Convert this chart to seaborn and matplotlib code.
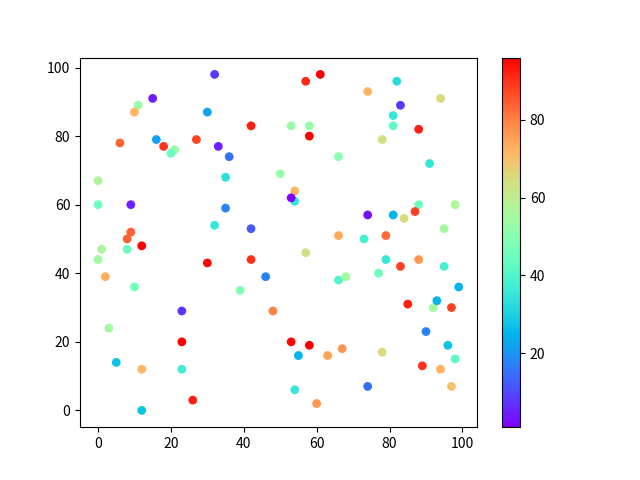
import numpy as np
import pandas as pd
import matplotlib
matplotlib.use("Agg")
import matplotlib.pyplot as plt
import seaborn as sns

# point positions and colour values
x = [32, 15, 11, 10, 30, 42, 6, 16, 18, 21, 20, 27, 33, 36, 50, 0, 35, 0, 9, 35,
     32, 42, 9, 8, 12, 1,
     61, 57, 82, 74, 94, 83, 81, 81, 53, 58, 58, 88, 78, 66, 91, 54, 54, 53, 88,
     98, 87, 74, 81, 84, 95, 66, 73, 79,
     8, 0, 30, 42, 2, 46, 10, 39, 23, 48, 3, 23, 5, 12, 23, 26, 12,
     57, 79, 88, 83, 95, 66, 68, 77, 99, 85, 92, 93, 97, 90, 53, 58, 55, 63, 67,
     78, 96, 98, 89, 94, 74, 97, 54, 60]
y = [98, 91, 89, 87, 87, 83, 78, 79, 77, 76, 75, 79, 77, 74, 69, 67, 68, 60, 60, 59,
     54, 53, 52, 50, 48, 47,
     98, 96, 96, 93, 91, 89, 86, 83, 83, 83, 80, 82, 79, 74, 72, 64, 61, 62, 60,
     60, 58, 57, 57, 56, 53, 51, 50, 51,
     47, 44, 43, 44, 39, 39, 36, 35, 29, 29, 24, 20, 14, 12, 12, 3, 0,
     46, 44, 44, 42, 42, 38, 39, 40, 36, 31, 30, 32, 30, 23, 20, 19, 16, 16, 18,
     17, 19, 15, 13, 12, 7, 7, 6, 2]
c = [8, 5, 53, 72, 22, 92, 84, 22, 90, 52, 45, 88, 5, 15, 53, 57, 33, 45, 5, 18,
     35, 12, 84, 84, 96, 57,
     96, 91, 32, 72, 65, 8, 35, 43, 53, 53, 96, 92, 63, 50, 35, 72, 35, 1, 45,
     57, 88, 3, 25, 65, 55, 74, 38, 83,
     45, 55, 95, 90, 73, 17, 46, 48, 7, 80, 55, 96, 27, 72, 37, 92, 27,
     63, 35, 77, 88, 38, 40, 55, 45, 25, 92, 55, 25, 88, 17, 95, 96, 25, 75, 77,
     65, 27, 42, 90, 72, 15, 70, 35, 77]

df = pd.DataFrame({"x": x, "y": y, "c": c})

plt.rcParams['font.family'] = ['Noto Sans CJK SC', 'DejaVu Sans']

fig, ax = plt.subplots(figsize=(6.4, 4.8), dpi=100)
norm = plt.Normalize(min(c), max(c))
sns.scatterplot(data=df, x="x", y="y", hue="c", palette="rainbow", hue_norm=norm,
                s=40, linewidth=0, legend=False, ax=ax)
ax.set_xlabel("")
ax.set_ylabel("")
sm = plt.cm.ScalarMappable(cmap="rainbow", norm=norm)
sm.set_array([])
fig.colorbar(sm, ax=ax)
plt.savefig("out.png")
